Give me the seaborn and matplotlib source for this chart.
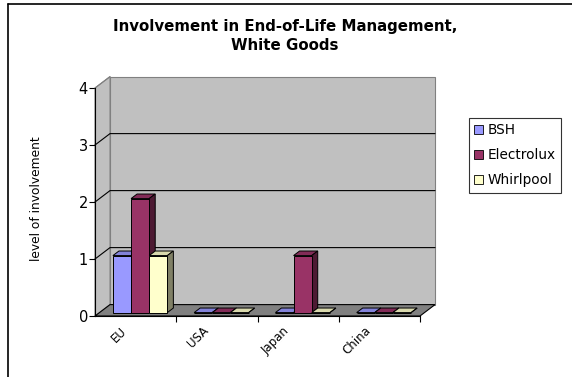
import matplotlib
matplotlib.use('Agg')
import pandas as pd
import seaborn as sns
import matplotlib.pyplot as plt
from matplotlib.patches import Polygon, Patch, Rectangle
from matplotlib.lines import Line2D
from matplotlib.transforms import ScaledTranslation
import matplotlib.colors as mcolors

# data
regions = ['EU', 'USA', 'Japan', 'China']
companies = ['BSH', 'Electrolux', 'Whirlpool']
bsh = [1, 0, 0, 0]
electrolux = [2, 0, 1, 0]
whirlpool = [1, 0, 0, 0]
colors = ['#9999ff', '#993366', '#ffffcc']
y_ticks = [0, 1, 2, 3, 4]

df = pd.DataFrame({
    'region': regions * 3,
    'company': [c for c in companies for _ in regions],
    'level': bsh + electrolux + whirlpool,
})

sns.set_style('white')
plt.rcParams['font.family'] = ['DejaVu Sans']
plt.rcParams['text.color'] = 'black'
plt.rcParams['xtick.labelcolor'] = 'black'
plt.rcParams['ytick.labelcolor'] = 'black'

fig = plt.figure(figsize=(5.72, 3.77), dpi=100)
ax = fig.add_axes([95 / 572, 61 / 377, 325 / 572, 228 / 377])

sns.barplot(data=df, x='region', y='level', hue='company', palette=colors,
            width=0.67, saturation=1, edgecolor='black', linewidth=0.7,
            legend=False, ax=ax)

bars = [p for p in ax.patches if isinstance(p, Rectangle)]

ax.set_xlim(-0.5, 3.5)
ax.set_ylim(0, 4)
ax.patch.set_visible(False)

# 3D depth of the box (data units)
dx, dy = 0.185, 0.2
x0, x1 = -0.5, 3.5

back = Polygon([(x0 + dx, dy), (x1 + dx, dy), (x1 + dx, 4 + dy), (x0 + dx, 4 + dy)],
               closed=True, facecolor='#c0c0c0', edgecolor='#808080', lw=0.8,
               clip_on=False, zorder=0.5)
side = Polygon([(x0, 0), (x0 + dx, dy), (x0 + dx, 4 + dy), (x0, 4)],
               closed=True, facecolor='#c0c0c0', edgecolor='#808080', lw=0.8,
               clip_on=False, zorder=0.5)
floor = Polygon([(x0, 0), (x1, 0), (x1 + dx, dy), (x0 + dx, dy)],
                closed=True, facecolor='#808080', edgecolor='black', lw=0.8,
                clip_on=False, zorder=0.6)
for p in [back, side, floor]:
    ax.add_patch(p)

for v in y_ticks[1:4]:
    ax.plot([x0, x0 + dx, x1 + dx], [v, v + dy, v + dy], color='black', lw=0.8,
            clip_on=False, zorder=0.7)
ax.plot([x0, x0 + dx], [4, 4 + dy], color='#808080', lw=0.8, clip_on=False, zorder=0.7)

# give the bars some depth
f, bd = 0.3, 0.4
bars.sort(key=lambda b: b.get_x())
for i, b in enumerate(bars):
    x, w, h = b.get_x(), b.get_width(), b.get_height()
    bx, by = x + f * dx, f * dy
    b.set_x(bx)
    b.set_y(by)
    b.set_clip_on(False)
    fc = mcolors.to_rgb(b.get_facecolor())
    ddx, ddy = bd * dx, bd * dy
    top = Polygon([(bx, by + h), (bx + w, by + h), (bx + w + ddx, by + h + ddy), (bx + ddx, by + h + ddy)],
                  closed=True, facecolor=[c * 0.85 for c in fc], edgecolor='black', lw=0.7,
                  clip_on=False, zorder=2 + i * 0.01)
    sd = Polygon([(bx + w, by), (bx + w + ddx, by + ddy), (bx + w + ddx, by + h + ddy), (bx + w, by + h)],
                 closed=True, facecolor=[c * 0.5 for c in fc], edgecolor='black', lw=0.7,
                 clip_on=False, zorder=2 + i * 0.01)
    ax.add_patch(top)
    ax.add_patch(sd)
    b.set_zorder(2 + i * 0.01 + 0.005)

# axes
for s in ['top', 'right']:
    ax.spines[s].set_visible(False)
for s in ['left', 'bottom']:
    ax.spines[s].set_color('black')
    ax.spines[s].set_linewidth(0.8)
    ax.spines[s].set_zorder(3)

ax.set_yticks(y_ticks)
ax.tick_params(axis='y', which='major', length=4, width=0.8, color='black',
               labelsize=10.5, labelcolor='black', left=True, pad=1)
ax.set_xticks(range(len(regions)))
ax.set_xticklabels(regions, rotation=45, ha='right', fontsize=8.5, color='black')
ax.tick_params(axis='x', which='major', length=0, pad=6)
ax.set_xticks([0.5, 1.5, 2.5, 3.5], minor=True)
ax.tick_params(axis='x', which='minor', length=4, width=0.8, color='black', bottom=True)
shift = ScaledTranslation(-6 / 100, 0, fig.dpi_scale_trans)
for lab in ax.get_xticklabels():
    lab.set_transform(lab.get_transform() + shift)
ax.set_xlabel('')
ax.set_ylabel('')

fig.text(36 / 572, 1 - 199 / 377, 'level of involvement', rotation=90,
         ha='center', va='center', fontsize=8.8, color='black')
fig.text(285 / 572, 1 - 36 / 377, 'Involvement in End-of-Life Management,\nWhite Goods',
         ha='center', va='center', fontsize=10.8, fontweight='bold', linespacing=1.4,
         color='black')

handles = [Patch(facecolor=c, edgecolor='black', lw=0.6) for c in colors]
leg = fig.legend(handles, companies, loc='upper left',
                 bbox_to_anchor=(469 / 572, 1 - 118 / 377), fontsize=9.8,
                 frameon=True, fancybox=False, handlelength=0.6, handleheight=0.6,
                 handletextpad=0.35, labelspacing=0.8, borderpad=0.4, borderaxespad=0)
leg.get_frame().set_edgecolor('black')
leg.get_frame().set_linewidth(0.8)
for t in leg.get_texts():
    t.set_color('black')

# outer border (left and top only visible)
fig.add_artist(Line2D([8 / 572, 8 / 572], [0, 1 - 4 / 377], color='black', lw=1.2))
fig.add_artist(Line2D([8 / 572, 1], [1 - 4 / 377, 1 - 4 / 377], color='black', lw=1.2))

fig.savefig('out.png', dpi=100)
